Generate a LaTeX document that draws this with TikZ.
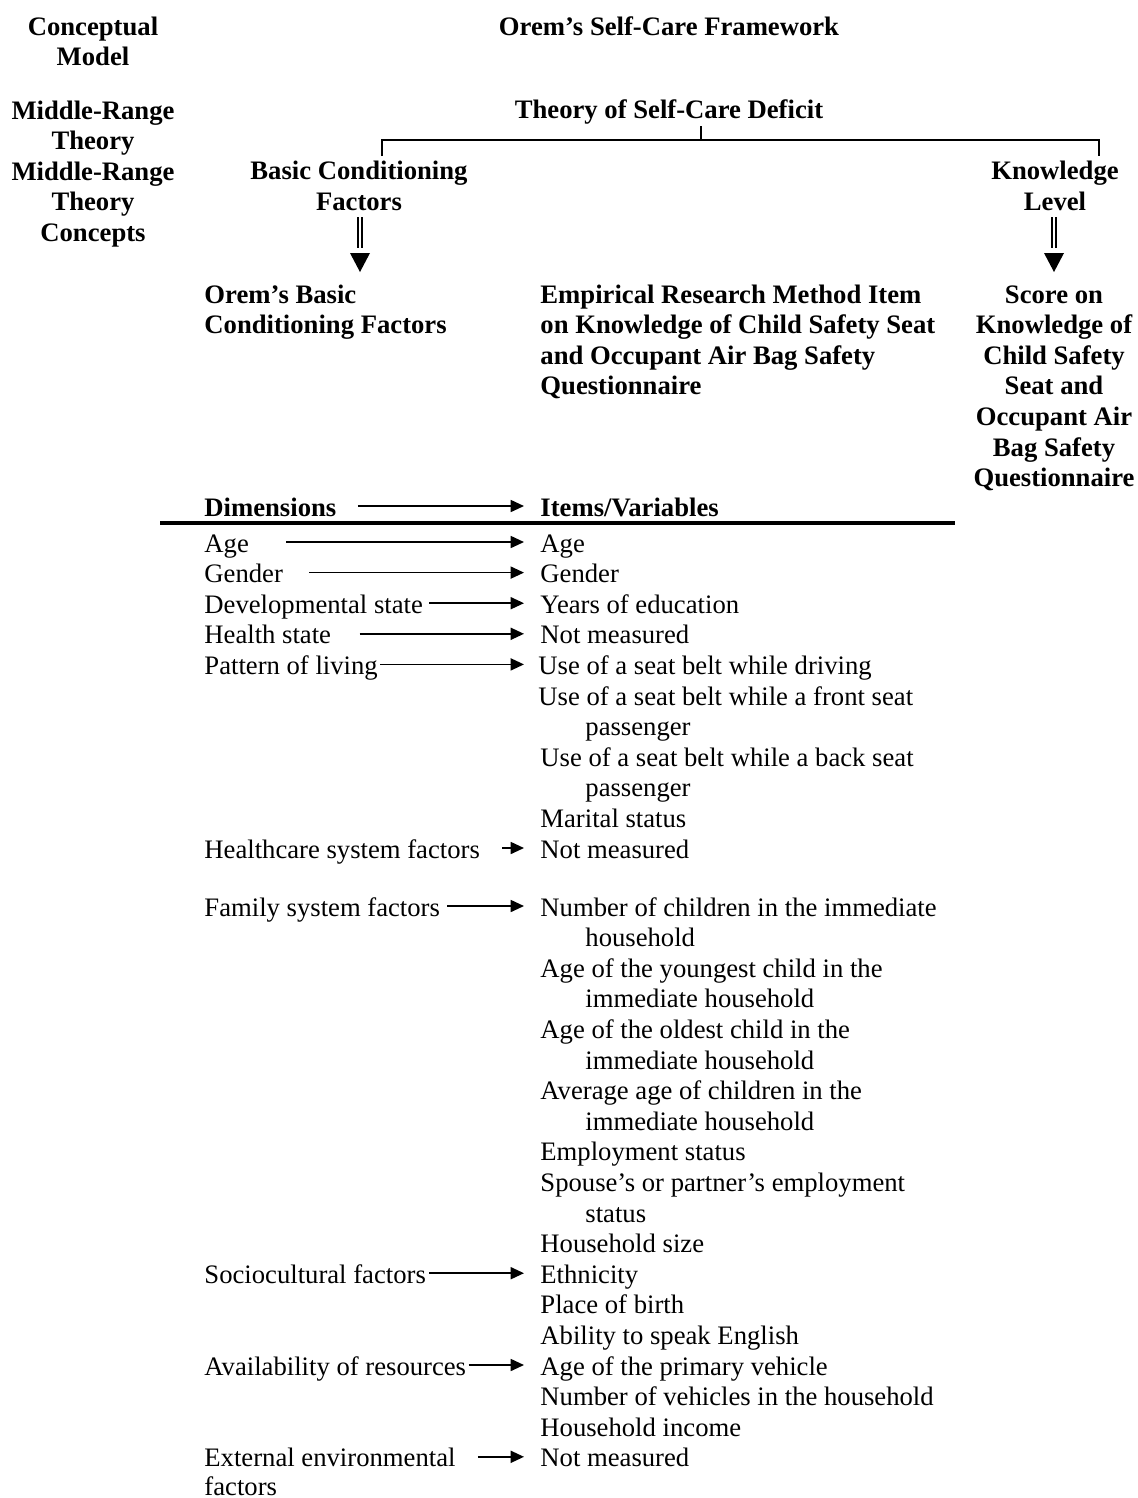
\documentclass[tikz,border=0pt,12pt]{standalone}
\usepackage{fontspec}
\setmainfont{Liberation Serif}
\usetikzlibrary{arrows.meta,positioning}

\tikzset{
  hdc/.style={inner sep=0pt, font=\bfseries, anchor=base},
  hdl/.style={inner sep=0pt, font=\bfseries, anchor=base west},
  cell/.style={inner sep=0pt, anchor=base west, text height=9pt, text depth=0pt},
  maps/.style={line width=.75pt, -{Triangle[length=6pt,width=5.4pt]}},
  brace/.style={line width=.7pt},
  dbl/.style={double, double distance=1.3pt, line width=.6pt},
}

\begin{document}
\begin{tikzpicture}[x=.45pt,y=-.45pt]
\useasboundingbox (0,0) rectangle (1138,1498);
% left column
\node[hdc] (cm1) at (93,35) {Conceptual};
\node[hdc] (cm2) at (93,65) {Model};
\node[hdc] (mr1) at (93,119) {Middle-Range};
\node[hdc] (mr2) at (93,149.6) {Theory};
\node[hdc] (mc1) at (93,180.2) {Middle-Range};
\node[hdc] (mc2) at (93,210.8) {Theory};
\node[hdc] (mc3) at (93,241.4) {Concepts};
% framework and theory
\node[hdc] (osf) at (669,35) {Orem’s Self-Care Framework};
\node[hdc] (tsd) at (669,118) {Theory of Self-Care Deficit};
\node[hdc] (bcf1) at (359,179) {Basic Conditioning};
\node[hdc] (bcf2) at (359,210) {Factors};
\node[hdc] (kl1) at (1055,179) {Knowledge};
\node[hdc] (kl2) at (1055,210) {Level};
% bracket
\coordinate (brM) at (701,140);
\coordinate (brL) at (382,140);
\coordinate (brR) at (1099,140);
\draw[brace] (brM) -- ++(0,-14);
\draw[brace] (brL) ++(0,16) -- (brL) -- (brR) -- ++(0,16);
% double arrows
\coordinate (bcftip) at (360,272);
\draw[dbl] (bcftip) ++(0,-55) -- ++(0,31);
\fill (bcftip) -- ++(-10,-19) -- ++(20,0) -- cycle;
\coordinate (kltip) at (1054,272);
\draw[dbl] (kltip) ++(0,-55) -- ++(0,31);
\fill (kltip) -- ++(-10,-19) -- ++(20,0) -- cycle;
% empirical level
\node[hdl] (ocf1) at (204,303) {Orem’s Basic};
\node[hdl] (ocf2) at (204,333.6) {Conditioning Factors};
\node[hdl] (erm1) at (540,303) {Empirical Research Method Item};
\node[hdl] (erm2) at (540,333.6) {on Knowledge of Child Safety Seat};
\node[hdl] (erm3) at (540,364.2) {and Occupant Air Bag Safety};
\node[hdl] (erm4) at (540,394.8) {Questionnaire};
\node[hdc] (sk1) at (1054,303) {Score on};
\node[hdc] (sk2) at (1054,333.6) {Knowledge of};
\node[hdc] (sk3) at (1054,364.2) {Child Safety};
\node[hdc] (sk4) at (1054,394.8) {Seat and};
\node[hdc] (sk5) at (1054,425.4) {Occupant Air};
\node[hdc] (sk6) at (1054,456) {Bag Safety};
\node[hdc] (sk7) at (1054,486.6) {Questionnaire};
% table head
\node[cell, font=\bfseries] (dhd) at (204,516) {Dimensions};
\node[cell, font=\bfseries] (vhd) at (540,516) {Items/Variables};
\draw[maps] ([shift={(21,0)}]dhd.east) -- ([shift={(-16,0)}]vhd.west);
\draw[line width=1.4pt] (160,523) -- (955,523);
% dimensions
\node[cell] (dage) at (204,552) {Age};
\node[cell] (dgen) at (204,582.6) {Gender};
\node[cell] (ddev) at (204,613.2) {Developmental state};
\node[cell] (dhea) at (204,643.8) {Health state};
\node[cell] (dliv) at (204,674.4) {Pattern of living};
\node[cell] (dhcs) at (204,858) {Healthcare system factors};
\node[cell] (dfam) at (204,916) {Family system factors};
\node[cell] (dsoc) at (204,1283.2) {Sociocultural factors};
\node[cell] (dres) at (204,1375) {Availability of resources};
\node[cell] (denv) at (204,1466.8) {External environmental};
\node[cell] (denv2) at (204,1495) {factors};
% items
\node[cell] (vage) at (540,552) {Age};
\node[cell] (vgen) at (540,582.6) {Gender};
\node[cell] (vedu) at (540,613.2) {Years of education};
\node[cell] (vhea) at (540,643.8) {Not measured};
\node[cell] (vbd) at (538,674.4) {Use of a seat belt while driving};
\node[cell] (vbf) at (538,705) {Use of a seat belt while a front seat};
\node[cell] (vbf2) at (585,735.6) {passenger};
\node[cell] (vbb) at (540,766.2) {Use of a seat belt while a back seat};
\node[cell] (vbb2) at (585,796.8) {passenger};
\node[cell] (vmar) at (540,827.4) {Marital status};
\node[cell] (vhcs) at (540,858) {Not measured};
\node[cell] (vnch) at (540,916) {Number of children in the immediate};
\node[cell] (vnch2) at (585,946.6) {household};
\node[cell] (vyng) at (540,977.2) {Age of the youngest child in the};
\node[cell] (vyng2) at (585,1007.8) {immediate household};
\node[cell] (vold) at (540,1038.4) {Age of the oldest child in the};
\node[cell] (vold2) at (585,1069) {immediate household};
\node[cell] (vavg) at (540,1099.6) {Average age of children in the};
\node[cell] (vavg2) at (585,1130.2) {immediate household};
\node[cell] (vemp) at (540,1160.8) {Employment status};
\node[cell] (vspo) at (540,1191.4) {Spouse’s or partner’s employment};
\node[cell] (vspo2) at (585,1222) {status};
\node[cell] (vhhs) at (540,1252.6) {Household size};
\node[cell] (veth) at (540,1283.2) {Ethnicity};
\node[cell] (vpob) at (540,1313.8) {Place of birth};
\node[cell] (veng) at (540,1344.4) {Ability to speak English};
\node[cell] (vveh) at (540,1375) {Age of the primary vehicle};
\node[cell] (vnve) at (540,1405.6) {Number of vehicles in the household};
\node[cell] (vinc) at (540,1436.2) {Household income};
\node[cell] (venv) at (540,1466.8) {Not measured};
% mapping arrows
\draw[maps] ([shift={(37,0)}]dage.east) -- ([shift={(-16,0)}]vage.west);
\draw[maps] ([shift={(26,0)}]dgen.east) -- ([shift={(-16,0)}]vgen.west);
\draw[maps] ([shift={(6,0)}]ddev.east) -- ([shift={(-16,0)}]vedu.west);
\draw[maps] ([shift={(28,0)}]dhea.east) -- ([shift={(-16,0)}]vhea.west);
\draw[maps] ([shift={(2,0)}]dliv.east) -- ([shift={(-14,0)}]vbd.west);
\draw[maps] ([shift={(22,0)}]dhcs.east) -- ([shift={(-16,0)}]vhcs.west);
\draw[maps] ([shift={(7,0)}]dfam.east) -- ([shift={(-16,0)}]vnch.west);
\draw[maps] ([shift={(3,0)}]dsoc.east) -- ([shift={(-16,0)}]veth.west);
\draw[maps] ([shift={(2,0)}]dres.east) -- ([shift={(-16,0)}]vveh.west);
\draw[maps] ([shift={(22,0)}]denv.east) -- ([shift={(-16,0)}]venv.west);
\end{tikzpicture}
\end{document}
